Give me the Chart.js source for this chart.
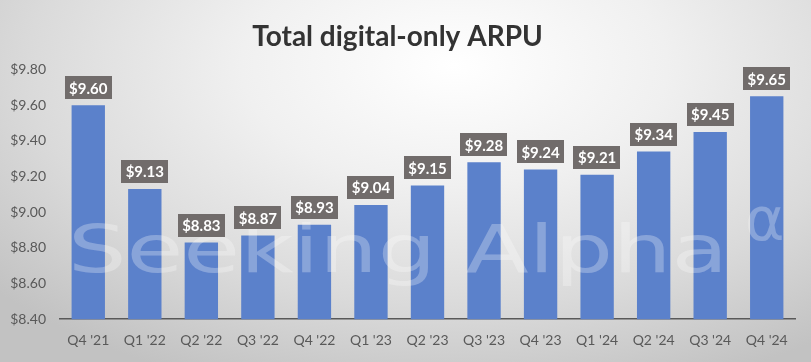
<!DOCTYPE html>
<html>
<head>
<meta charset="utf-8">
<script src="https://cdn.jsdelivr.net/npm/chart.js@4/dist/chart.umd.min.js"></script>
<style>
  html, body { margin: 0; padding: 0; }
  body { width: 811px; height: 362px; overflow: hidden; }
  #wrap {
    position: relative; width: 811px; height: 362px;
    background: radial-gradient(ellipse 75% 95% at 56% 18%, #ffffff 0%, #f0f0f0 35%, #dadada 70%, #c2c2c2 100%);
  }
</style>
</head>
<body>
<div id="wrap"><canvas id="c" width="811" height="362"></canvas></div>
<script>
const categories = ["Q4 '21", "Q1 '22", "Q2 '22", "Q3 '22", "Q4 '22", "Q1 '23", "Q2 '23", "Q3 '23", "Q4 '23", "Q1 '24", "Q2 '24", "Q3 '24", "Q4 '24"];
const arpu = [9.60, 9.13, 8.83, 8.87, 8.93, 9.04, 9.15, 9.28, 9.24, 9.21, 9.34, 9.45, 9.65];
const yTicks = [8.40, 8.60, 8.80, 9.00, 9.20, 9.40, 9.60, 9.80];
const titleText = "Total digital-only ARPU";
const watermark = "Seeking Alpha";

const watermarkPlugin = {
  id: 'watermark',
  afterDatasetsDraw(chart) {
    const ctx = chart.ctx;
    ctx.save();
    ctx.fillStyle = 'rgba(255,255,255,0.28)';
    ctx.font = '66px "DejaVu Sans"';
    ctx.textBaseline = 'alphabetic';
    ctx.textAlign = 'left';
    const w = ctx.measureText(watermark).width;
    const target = 660;
    ctx.translate(68, 272);
    ctx.scale(target / w, 1);
    ctx.fillText(watermark, 0, 0);
    ctx.restore();
    ctx.save();
    ctx.fillStyle = 'rgba(255,255,255,0.28)';
    ctx.font = '60px "DejaVu Sans"';
    ctx.fillText('\u03b1', 745, 240);
    ctx.restore();
  }
};

const labelPlugin = {
  id: 'barLabels',
  afterDatasetsDraw(chart) {
    const ctx = chart.ctx;
    const meta = chart.getDatasetMeta(0);
    ctx.save();
    ctx.font = 'bold 15px Lato';
    ctx.textAlign = 'center';
    ctx.textBaseline = 'middle';
    meta.data.forEach((bar, i) => {
      const txt = '$' + arpu[i].toFixed(2);
      const tw = ctx.measureText(txt).width;
      const bw = tw + 9, bh = 23;
      const x = bar.x, bottom = bar.y - 6;
      ctx.fillStyle = '#716c6b';
      ctx.fillRect(Math.round(x - bw / 2), Math.round(bottom - bh), Math.round(bw), bh);
      ctx.fillStyle = '#ffffff';
      ctx.fillText(txt, x, bottom - bh / 2 + 1);
    });
    ctx.restore();
  }
};

new Chart(document.getElementById('c'), {
  type: 'bar',
  data: {
    labels: categories,
    datasets: [{
      data: arpu,
      backgroundColor: '#5b81cb',
      borderWidth: 0,
      barPercentage: 0.59,
      categoryPercentage: 1.0
    }]
  },
  options: {
    responsive: false,
    animation: false,
    devicePixelRatio: 1,
    layout: { padding: { left: 0, right: 16, top: 0, bottom: 0 } },
    plugins: {
      legend: { display: false },
      tooltip: { enabled: false },
      title: {
        display: true,
        text: titleText,
        color: '#333333',
        font: { family: 'Lato', size: 28, weight: 'bold' },
        padding: { top: 20, bottom: 16 }
      }
    },
    scales: {
      x: {
        grid: { display: false, drawTicks: false },
        border: { display: true, color: '#595959', width: 1.5 },
        ticks: { color: '#595959', font: { family: 'Lato', size: 14 }, padding: 13, maxRotation: 0 }
      },
      y: {
        min: 8.40, max: 9.80,
        afterBuildTicks(axis) { axis.ticks = yTicks.map(v => ({ value: v })); },
        afterFit(axis) { axis.width = 60; },
        grid: { display: false, drawTicks: false },
        border: { display: false },
        ticks: {
          color: '#595959',
          font: { family: 'Lato', size: 14 },
          padding: 14,
          callback: v => '$' + Number(v).toFixed(2)
        }
      }
    }
  },
  plugins: [watermarkPlugin, labelPlugin]
});
</script>
</body>
</html>
